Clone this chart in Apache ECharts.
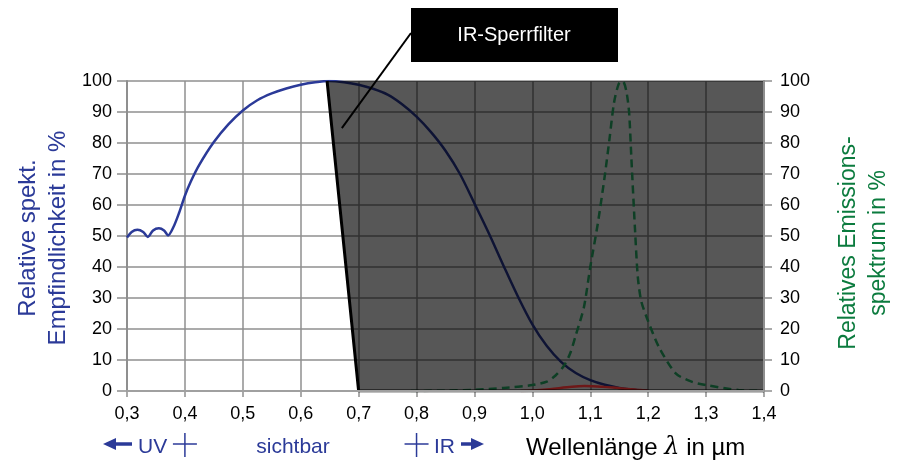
<!DOCTYPE html>
<html><head><meta charset="utf-8">
<script src="https://cdn.jsdelivr.net/npm/echarts@6/dist/echarts.min.js"></script>
<style>html,body{margin:0;padding:0;background:#fff}#c{width:897px;height:461px}</style>
</head><body><div id="c"></div>
<script>
// Relative spectral sensitivity (%)
const sensX = [0.300,0.308,0.318,0.328,0.336,0.345,0.355,0.364,0.371,0.380,0.390,0.400,0.410,0.425,0.450,0.475,0.500,0.525,0.550,0.575,0.600,0.625,0.650,0.675,0.700,0.725,0.750,0.775,0.800,0.825,0.850,0.875,0.900,0.925,0.950,0.975,1.000,1.025,1.050,1.075,1.100,1.125,1.150,1.175,1.200];
const sensY = [49.5,51.3,52.0,51.3,49.7,51.8,52.5,51.8,50.2,52.8,57.5,63.0,67.5,73.0,80.3,86.0,90.5,93.8,96.0,97.6,98.8,99.6,100,99.6,98.8,97.5,95.6,92.5,88.5,83.5,77.5,70.0,60.5,50.8,40.5,30.5,21.5,14.5,9.3,5.8,3.5,2.0,1.0,0.4,0.1];
// Relative emission spectrum (%)
const emisX = [0.790,0.850,0.900,0.950,1.000,1.025,1.040,1.054,1.065,1.075,1.089,1.100,1.113,1.124,1.133,1.141,1.149,1.156,1.162,1.167,1.171,1.177,1.182,1.188,1.200,1.219,1.248,1.275,1.300,1.356,1.400];
const emisY = [0,0.1,0.4,1.0,1.9,3.0,5.0,8.0,12.0,18.0,27.0,40.0,54.0,68.0,81.0,93.0,99.0,100,97.0,90.0,75.0,53.0,37.0,29.0,22.5,14.0,5.6,3.0,1.9,0.3,0];
// small residual curve
const redX = [0.980,1.030,1.060,1.090,1.120,1.150,1.180,1.200];
const redY = [0,0.6,1.2,1.6,1.4,0.9,0.4,0.1];
// IR cut filter region
const filterX = [0.6455,1.4,1.4,0.7];
const filterY = [100,100,0,0];
const edgeX = [0.6455,0.7,1.4];
const edgeY = [100,0,0];
const pointerFrom = [0.671,84.8];
const xTickFmt = v => v.toFixed(1).replace('.', ',');

const FF = 'Liberation Sans, Arial, sans-serif';
const BLUE = '#2b3a98', GREEN = '#0b7b3e', GRID = '#8f8f8f';
const zip = (xs, ys) => xs.map((x, i) => [x, ys[i]]);

const chart = echarts.init(document.getElementById('c'));
chart.setOption({
  animation: false,
  grid: {left: 127, right: 133, top: 81, bottom: 70},
  xAxis: [{
    type: 'value', min: 0.3, max: 1.4, interval: 0.1,
    axisLine: {lineStyle: {color: GRID, width: 2}},
    axisTick: {length: 6, lineStyle: {color: GRID, width: 1.5}},
    axisLabel: {formatter: xTickFmt, color: '#000', fontSize: 18, margin: 14, fontFamily: FF},
    splitLine: {show: true, lineStyle: {color: GRID, width: 1.5}}
  }, {
    type: 'value', position: 'top', min: 0.3, max: 1.4, z: 10,
    axisLine: {show: true, lineStyle: {color: '#a0a0a0', width: 2}},
    axisTick: {show: false}, axisLabel: {show: false}, splitLine: {show: false}
  }],
  yAxis: [{
    type: 'value', min: 0, max: 100, interval: 10, position: 'left',
    axisLine: {show: true, lineStyle: {color: GRID, width: 2}},
    axisTick: {show: true, length: 10, lineStyle: {color: GRID, width: 1.5}},
    axisLabel: {color: '#000', fontSize: 18, margin: 15, fontFamily: FF},
    splitLine: {show: true, lineStyle: {color: GRID, width: 1.5}}
  }, {
    type: 'value', min: 0, max: 100, interval: 10, position: 'right', z: 10,
    axisLine: {show: true, lineStyle: {color: GRID, width: 2}},
    axisTick: {show: true, length: 8, lineStyle: {color: GRID, width: 1.5}},
    axisLabel: {color: '#000', fontSize: 18, margin: 16, fontFamily: FF},
    splitLine: {show: false}
  }],
  series: [
    {type: 'line', data: zip(sensX, sensY), smooth: 0.3, showSymbol: false, z: 2,
     lineStyle: {color: BLUE, width: 2.5}},
    {type: 'custom', z: 4, silent: true, data: [[0.7, 0]],
     renderItem: (params, api) => ({
       type: 'polygon',
       shape: {points: filterX.map((x, i) => api.coord([x, filterY[i]]))},
       style: {fill: 'rgba(0,0,0,0.66)'}
     })},
    {type: 'line', data: zip(emisX, emisY), smooth: 0.25, showSymbol: false, z: 6,
     lineStyle: {color: '#0e3f25', width: 2.5, type: [8, 5]}},
    {type: 'line', data: zip(redX, redY), smooth: 0.4, showSymbol: false, z: 6,
     lineStyle: {color: '#6e1818', width: 2.5}},
    {type: 'line', data: zip(edgeX, edgeY), showSymbol: false, z: 7,
     lineStyle: {color: '#000', width: 3}}
  ]
});

const px = (x, y) => chart.convertToPixel({xAxisIndex: 0, yAxisIndex: 0}, [x, y]);
const pf = px(pointerFrom[0], pointerFrom[1]);
const c4 = px(0.4, 0)[0], c8 = px(0.8, 0)[0];
const rowY = 444;
const line = (x1, y1, x2, y2, color, w) => ({type: 'line', shape: {x1, y1, x2, y2}, style: {stroke: color, lineWidth: w}, z: 20});
const txt = (text, x, y, opts) => ({type: 'text', x, y, z: 20,
  style: Object.assign({text, font: '21px ' + FF, fill: BLUE, textAlign: 'left', textVerticalAlign: 'middle'}, opts)});

chart.setOption({graphic: [
  {type: 'rect', shape: {x: 411, y: 8, width: 207, height: 54}, style: {fill: '#000'}, z: 20},
  txt('IR-Sperrfilter', 514, 35, {fill: '#fff', font: '20px ' + FF, textAlign: 'center'}),
  line(pf[0], pf[1], 411, 33, '#000', 2),
  {type: 'text', x: 43, y: 238, rotation: Math.PI / 2, z: 20,
   style: {text: 'Relative spekt.\nEmpfindlichkeit in %', font: '24px ' + FF, fill: BLUE,
           textAlign: 'center', textVerticalAlign: 'middle', lineHeight: 30}},
  {type: 'text', x: 864, y: 243, rotation: Math.PI / 2, z: 20,
   style: {text: 'Relatives Emissions-\nspektrum in %', font: '23px ' + FF, fill: GREEN,
           textAlign: 'center', textVerticalAlign: 'middle', lineHeight: 30}},
  // left arrow + UV
  {type: 'polygon', shape: {points: [[103, rowY], [116, rowY - 6], [116, rowY + 6]]}, style: {fill: BLUE}, z: 20},
  line(114, rowY, 132, rowY, BLUE, 3.5),
  txt('UV', 138, rowY + 3),
  line(c4, rowY - 11, c4, rowY + 13, BLUE, 1.5),
  line(c4 - 12, rowY, c4 + 12, rowY, BLUE, 1.5),
  txt('sichtbar', 293, rowY + 3, {textAlign: 'center'}),
  line(c8, rowY - 11, c8, rowY + 13, BLUE, 1.5),
  line(c8 - 12, rowY, c8 + 12, rowY, BLUE, 1.5),
  txt('IR', 434, rowY + 3),
  line(461, rowY, 473, rowY, BLUE, 3.5),
  {type: 'polygon', shape: {points: [[484, rowY], [471, rowY - 6], [471, rowY + 6]]}, style: {fill: BLUE}, z: 20},
  {type: 'text', x: 526, y: rowY + 4, z: 20,
   style: {text: 'Wellenlänge {l|λ} in µm', font: '24px ' + FF, fill: '#000', textVerticalAlign: 'middle',
           rich: {l: {fontStyle: 'italic', fontSize: 24, fontFamily: 'DejaVu Serif', fill: '#000'}}}}
]});
</script></body></html>
